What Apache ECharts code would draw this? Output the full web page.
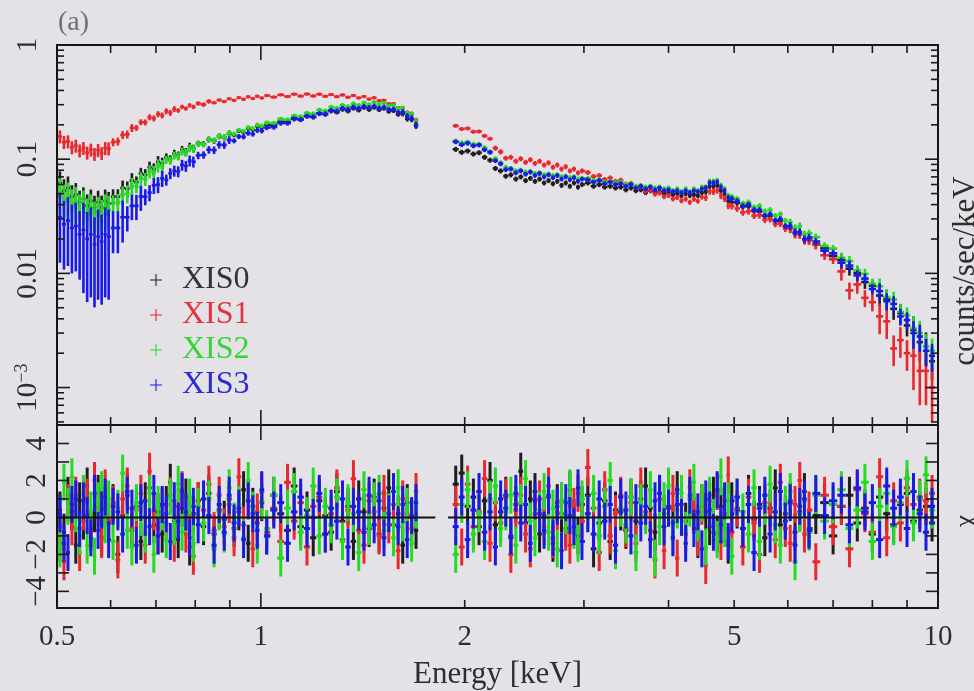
<!DOCTYPE html>
<html>
<head>
<meta charset="utf-8">
<script src="https://cdn.jsdelivr.net/npm/echarts@6/dist/echarts.min.js"></script>
<style>
  html, body { margin: 0; padding: 0; background: #e4e2e7; }
  #chart { width: 974px; height: 691px; }
</style>
</head>
<body>
<div id="chart"></div>
<script>
// XIS spectra (counts/sec/keV) and residuals (chi) for the four detectors.

// Bin centres (keV): soft band and hard band, with the 1.7-1.9 keV gap between them
const energyLow = [
  0.505, 0.512, 0.519, 0.526, 0.533, 0.540, 0.547, 0.554, 0.561, 0.568, 0.575, 0.582, 0.589, 0.596,
  0.605, 0.615, 0.625, 0.635, 0.645, 0.655, 0.665, 0.675, 0.685, 0.695,
  0.705, 0.715, 0.725, 0.735, 0.745, 0.755, 0.765, 0.775, 0.785, 0.795,
  0.808, 0.823, 0.838, 0.853, 0.868, 0.883, 0.898, 0.913, 0.928, 0.943, 0.958, 0.973, 0.988, 1.003,
  1.02, 1.045, 1.07, 1.095, 1.12, 1.145, 1.17, 1.195, 1.22, 1.245,
  1.27, 1.295, 1.32, 1.345, 1.37, 1.395, 1.42, 1.445, 1.47, 1.495,
  1.52, 1.545, 1.57, 1.595, 1.62, 1.645, 1.67, 1.695
];
const energyHigh = [
  1.94, 1.98, 2.02, 2.06, 2.10, 2.14, 2.18, 2.22, 2.26, 2.30, 2.34, 2.38, 2.42, 2.46,
  2.50, 2.54, 2.58, 2.62, 2.66, 2.70, 2.74, 2.78, 2.82, 2.86, 2.90, 2.94, 2.98,
  3.04, 3.10, 3.16, 3.22, 3.28, 3.34, 3.40, 3.46, 3.52, 3.58, 3.64, 3.70, 3.76, 3.82, 3.88, 3.94,
  4.00, 4.06, 4.12, 4.18, 4.24, 4.30, 4.36, 4.42, 4.48, 4.54, 4.60, 4.66, 4.72, 4.78, 4.84, 4.90, 4.96,
  5.05, 5.15, 5.25, 5.35, 5.45, 5.55, 5.65, 5.75, 5.85, 5.95, 6.05, 6.15, 6.25, 6.35, 6.45,
  6.6, 6.8, 7.0, 7.2, 7.4, 7.6, 7.8, 8.0, 8.2, 8.4, 8.6, 8.8, 9.0, 9.2, 9.4, 9.6, 9.8
];

// Count rates, soft band
const xis0Low = [
  0.062, 0.053, 0.056, 0.047, 0.049, 0.042, 0.045, 0.039, 0.043, 0.038, 0.042, 0.038, 0.043, 0.041,
  0.047, 0.047, 0.056, 0.055, 0.065, 0.063, 0.075, 0.073, 0.085, 0.082,
  0.095, 0.092, 0.104, 0.100, 0.112, 0.108, 0.121, 0.116, 0.129, 0.124,
  0.137, 0.136, 0.149, 0.145, 0.159, 0.155, 0.168, 0.163, 0.177, 0.172, 0.186, 0.181, 0.195, 0.190,
  0.199, 0.199, 0.213, 0.211, 0.228, 0.223, 0.239, 0.234, 0.252, 0.247,
  0.264, 0.258, 0.273, 0.264, 0.279, 0.269, 0.283, 0.272, 0.284, 0.271,
  0.279, 0.262, 0.266, 0.247, 0.251, 0.226, 0.223, 0.195
];
const xis1Low = [
  0.158, 0.141, 0.143, 0.127, 0.131, 0.119, 0.125, 0.114, 0.121, 0.111, 0.120, 0.113, 0.125, 0.124,
  0.141, 0.143, 0.163, 0.165, 0.188, 0.188, 0.211, 0.210, 0.233, 0.228,
  0.248, 0.242, 0.263, 0.255, 0.275, 0.267, 0.287, 0.278, 0.296, 0.287,
  0.308, 0.301, 0.321, 0.312, 0.330, 0.320, 0.338, 0.328, 0.346, 0.335, 0.352, 0.340, 0.356, 0.344,
  0.361, 0.350, 0.366, 0.354, 0.371, 0.357, 0.372, 0.358, 0.371, 0.356,
  0.368, 0.353, 0.365, 0.349, 0.361, 0.344, 0.354, 0.336, 0.345, 0.325,
  0.328, 0.306, 0.306, 0.282, 0.281, 0.256, 0.250, 0.220
];
const xis2Low = [
  0.051, 0.045, 0.047, 0.041, 0.043, 0.037, 0.040, 0.034, 0.037, 0.032, 0.035, 0.033, 0.037, 0.036,
  0.041, 0.042, 0.049, 0.050, 0.058, 0.058, 0.068, 0.067, 0.078, 0.077,
  0.088, 0.087, 0.099, 0.097, 0.108, 0.106, 0.117, 0.114, 0.125, 0.123,
  0.136, 0.135, 0.149, 0.146, 0.160, 0.156, 0.170, 0.166, 0.180, 0.176, 0.190, 0.186, 0.200, 0.196,
  0.209, 0.207, 0.225, 0.222, 0.240, 0.236, 0.254, 0.250, 0.270, 0.265,
  0.286, 0.280, 0.297, 0.289, 0.306, 0.297, 0.312, 0.301, 0.315, 0.302,
  0.309, 0.293, 0.296, 0.277, 0.278, 0.252, 0.246, 0.214
];
const xis3Low = [
  0.031, 0.027, 0.029, 0.025, 0.026, 0.022, 0.024, 0.020, 0.022, 0.018, 0.021, 0.019, 0.022, 0.021,
  0.025, 0.025, 0.031, 0.031, 0.039, 0.039, 0.047, 0.047, 0.051, 0.059,
  0.060, 0.068, 0.066, 0.075, 0.079, 0.078, 0.089, 0.087, 0.097, 0.095,
  0.108, 0.109, 0.121, 0.120, 0.134, 0.133, 0.147, 0.145, 0.158, 0.157, 0.169, 0.166, 0.179, 0.177,
  0.189, 0.191, 0.207, 0.207, 0.225, 0.222, 0.238, 0.235, 0.251, 0.250,
  0.268, 0.264, 0.279, 0.273, 0.286, 0.279, 0.290, 0.283, 0.291, 0.280,
  0.285, 0.272, 0.274, 0.258, 0.259, 0.238, 0.229, 0.201
];

// Count rates, hard band
const xis0High = [
  0.122, 0.115, 0.118, 0.111, 0.114, 0.104, 0.098, 0.083, 0.079, 0.071, 0.073, 0.067, 0.070, 0.065,
  0.068, 0.064, 0.067, 0.062, 0.065, 0.061, 0.064, 0.059, 0.062, 0.058, 0.062, 0.057, 0.060,
  0.062, 0.058, 0.060, 0.057, 0.058, 0.056, 0.057, 0.054, 0.056, 0.053, 0.054, 0.051, 0.053, 0.051, 0.052, 0.050,
  0.051, 0.049, 0.050, 0.048, 0.050, 0.048, 0.049, 0.048, 0.051, 0.052, 0.058, 0.058, 0.059, 0.053, 0.050, 0.043, 0.042,
  0.0415, 0.0386, 0.0387, 0.0352, 0.0347, 0.0318, 0.0316, 0.0290, 0.0287, 0.0256, 0.0248, 0.0226, 0.0222, 0.0199, 0.0198,
  0.0180, 0.0166, 0.0142, 0.0131, 0.0110, 0.0101, 0.0084, 0.0078, 0.0064, 0.0060, 0.0049, 0.0045, 0.0035, 0.0032, 0.0025, 0.0023, 0.0017
];
const xis1High = [
  0.196, 0.184, 0.186, 0.174, 0.175, 0.160, 0.151, 0.125, 0.116, 0.102, 0.104, 0.096, 0.101, 0.094,
  0.099, 0.092, 0.096, 0.089, 0.093, 0.085, 0.089, 0.082, 0.086, 0.079, 0.082, 0.076, 0.079,
  0.0765, 0.0705, 0.0720, 0.0665, 0.0685, 0.0640, 0.0655, 0.0605, 0.0615, 0.0565, 0.0575, 0.0525, 0.0535, 0.0495, 0.0505, 0.0470,
  0.0482, 0.0450, 0.0462, 0.0433, 0.0448, 0.0420, 0.0446, 0.0430, 0.0466, 0.0460, 0.0523, 0.0520, 0.0533, 0.0478, 0.0451, 0.0390, 0.0388,
  0.0370, 0.0342, 0.0349, 0.0320, 0.0323, 0.0295, 0.0298, 0.0271, 0.0272, 0.0246, 0.0247, 0.0222, 0.0221, 0.0196, 0.0195,
  0.0178, 0.0144, 0.0133, 0.0104, 0.0071, 0.0080, 0.0061, 0.0056, 0.0042, 0.0038, 0.0022, 0.0026, 0.0020, 0.0019, 0.0014, 0.0014, 0.0010
];
const xis2High = [
  0.144, 0.139, 0.141, 0.135, 0.135, 0.126, 0.116, 0.101, 0.093, 0.085, 0.083, 0.079, 0.080, 0.077,
  0.078, 0.075, 0.076, 0.073, 0.074, 0.072, 0.073, 0.070, 0.071, 0.069, 0.070, 0.067, 0.068,
  0.068, 0.065, 0.066, 0.063, 0.064, 0.062, 0.063, 0.060, 0.061, 0.058, 0.059, 0.057, 0.058, 0.056, 0.057, 0.055,
  0.056, 0.053, 0.055, 0.052, 0.055, 0.052, 0.055, 0.053, 0.057, 0.057, 0.064, 0.064, 0.065, 0.059, 0.055, 0.048, 0.047,
  0.045, 0.041, 0.042, 0.038, 0.039, 0.035, 0.036, 0.032, 0.033, 0.029, 0.028, 0.025, 0.026, 0.022, 0.0225,
  0.0208, 0.0174, 0.0165, 0.0137, 0.0128, 0.0106, 0.0099, 0.0081, 0.0077, 0.0062, 0.0059, 0.0046, 0.0043, 0.0033, 0.0030, 0.0023, 0.0021
];
const xis3High = [
  0.142, 0.134, 0.138, 0.131, 0.133, 0.121, 0.115, 0.097, 0.091, 0.081, 0.082, 0.076, 0.079, 0.074,
  0.077, 0.072, 0.075, 0.070, 0.073, 0.069, 0.072, 0.067, 0.070, 0.066, 0.069, 0.064, 0.067,
  0.066, 0.063, 0.065, 0.061, 0.063, 0.060, 0.061, 0.058, 0.060, 0.056, 0.058, 0.055, 0.057, 0.054, 0.056, 0.053,
  0.054, 0.052, 0.053, 0.051, 0.053, 0.051, 0.053, 0.052, 0.055, 0.056, 0.062, 0.062, 0.063, 0.057, 0.053, 0.046, 0.045,
  0.043, 0.039, 0.040, 0.036, 0.036, 0.032, 0.033, 0.029, 0.030, 0.026, 0.026, 0.023, 0.023, 0.020, 0.0206,
  0.0190, 0.0158, 0.0150, 0.0124, 0.0117, 0.0096, 0.0090, 0.0073, 0.0070, 0.0057, 0.0054, 0.0042, 0.0039, 0.0030, 0.0028, 0.0021, 0.0019
];

// Fractional 1-sigma error of the count rate, per energy band: [band upper edge (keV), fraction]
const err0Bands = [[0.60, 0.26], [0.65, 0.16], [0.72, 0.12], [0.80, 0.08], [0.90, 0.06], [1.60, 0.045], [1.75, 0.055],
  [4.5, 0.05], [6.0, 0.06], [7.0, 0.085], [8.0, 0.13], [9.0, 0.2], [10, 0.32]];
const err1Bands = [[0.60, 0.13], [0.65, 0.08], [0.75, 0.06], [0.85, 0.045], [1.60, 0.032], [1.75, 0.045],
  [2.2, 0.04], [4.5, 0.05], [6.0, 0.065], [7.0, 0.09], [8.0, 0.17], [9.0, 0.3], [10, 0.5]];
const err2Bands = [[0.60, 0.33], [0.65, 0.18], [0.72, 0.13], [0.80, 0.08], [0.90, 0.06], [1.60, 0.045], [1.75, 0.055],
  [4.5, 0.05], [6.0, 0.055], [7.0, 0.075], [8.0, 0.11], [9.0, 0.17], [10, 0.28]];
const err3Bands = [[0.545, 0.6], [0.60, 0.72], [0.63, 0.4], [0.67, 0.25], [0.72, 0.16], [0.80, 0.11], [0.90, 0.075],
  [1.60, 0.05], [1.75, 0.06], [4.5, 0.047], [6.0, 0.055], [7.0, 0.075], [8.0, 0.11], [9.0, 0.17], [10, 0.27]];

// Residuals in units of sigma, soft band
const res0Low = [
  0.4, -0.8, 1.2, 0.3, -1.5, 0.9, -0.2, 1.7, -0.6, 0.2,
  1.3, -1.1, 0.5, -0.3, 0.8, -2.0, 0.1, 1.4, -0.7, 0.6,
  -1.3, 0.9, 1.6, -0.4, 0.3, -0.9, 0.7, 1.9, -0.2, -1.2,
  0.5, 1.1, -1.6, 0.2, 0.9, -0.5, 1.3, -0.9, 0.4, -0.1,
  1.0, -0.6, 0.3, 1.5, -1.4, 0.6, -0.3, 0.8, -1.0, 1.2,
  0.2, -0.7, 1.7, -0.5, 0.4, -1.1, 0.9, 0.1, -0.8, 1.4,
  -0.2, 0.6, -1.3, 1.0, 0.3, -0.6, 1.1, -0.9, 0.5, 1.6,
  -0.4, 0.2, -1.5, 0.8, 0.0, -0.7
];
const res1Low = [
  -1.4, -2.4, 0.8, -0.5, 1.2, -1.9, 0.3, 1.1, -0.8, 2.0,
  0.5, -1.2, 1.6, -0.2, 0.7, -2.3, 1.0, 1.7, -0.6, 0.4,
  1.3, -1.5, 2.5, 0.3, -1.0, 0.6, -0.3, 1.2, -1.4, 0.6,
  1.5, -0.9, 0.1, -2.1, 0.9, 0.4, 1.8, -0.7, 1.2, -0.5,
  0.7, -1.1, 2.2, -0.4, 0.9, -1.7, 0.3, 1.4, -0.8, 0.5,
  -1.3, 1.9, -0.2, 0.8, -1.6, 0.6, 1.1, -0.9, 0.2, 1.6,
  -1.2, 0.4, 2.1, -0.7, -1.5, 0.9, 0.3, -1.0, 1.3, -0.4,
  0.7, -1.8, 1.0, 0.2, -0.6, 1.4
];
const res2Low = [
  -1.7, 1.9, 0.6, 2.2, 0.2, -1.0, 1.3, -1.5, 0.4, -2.1,
  0.9, 1.5, -0.4, 1.0, -1.3, 0.5, 2.4, -0.7, -1.6, 0.8,
  0.0, -0.9, 1.3, -2.0, 0.7, 0.3, -1.2, 1.1, -0.5, 1.8,
  -0.8, 0.2, 1.1, -1.4, 0.6, -0.3, 1.0, -1.7, 0.3, -0.9,
  1.6, -0.2, 0.7, -1.1, 2.0, 0.4, -1.5, 0.9, -0.6, 1.2,
  -2.2, 0.5, 1.4, -0.8, 0.1, 1.7, -1.0, 0.6, -0.4, 1.1,
  -1.3, 0.8, 0.2, -1.9, 1.5, -0.5, 0.9, 1.3, -0.7, 0.3,
  -1.1, 1.6, -0.3, 0.6, -1.4, 0.4
];
const res3Low = [
  0.2, -1.4, -1.9, 0.7, 1.0, -0.6, 0.9, 0.1, -1.1, 1.3,
  -0.7, 0.4, 1.1, -1.2, 0.6, 0.3, -0.9, 1.2, 0.5, -1.5,
  0.8, 0.0, -0.5, 1.3, -1.0, 0.7, 0.2, -1.3, 0.9, -0.2,
  1.4, 0.3, -1.1, 0.6, -0.4, 1.0, 0.1, -1.5, 0.7, -0.8,
  1.2, -0.3, 0.5, -1.2, 0.9, 0.2, -0.7, 1.5, -1.0, 0.4,
  0.8, -1.4, 0.3, 1.1, -0.6, 0.0, 1.3, -0.9, 0.5, -0.2,
  1.0, -1.6, 0.6, 0.3, -0.8, 1.2, -0.4, 0.9, -1.1, 0.2,
  1.4, -0.5, 0.7, -1.2, 0.1, 0.8
];

// Residuals in units of sigma, hard band
const res0High = [
  1.8, 2.4, 0.6, 1.1, -0.5, 0.9, 2.0, -0.4, 0.3, 1.2,
  -1.1, 0.7, 2.5, -0.3, 1.0, 1.4, -0.9, 0.1, 1.1, -1.4,
  0.8, 0.2, -0.6, 1.5, 0.0, -1.0, 0.7, 1.2, -1.7, -0.3,
  0.9, -1.3, 0.4, 0.3, -0.7, 1.1, -0.2, 1.0, 1.7, 0.5,
  -0.8, 1.3, 0.2, 0.6, -0.3, 1.5, 0.7, -0.2, 1.0, 0.1,
  -1.2, 0.8, 0.3, -0.5, 1.2, -0.9, 0.6, 0.2, -1.5, 0.9,
  0.4, -0.6, 1.3, -0.1, 0.7, -1.1, 0.5, 1.6, -0.4, 0.2,
  0.9, -0.8, 0.3, 1.4, -0.6, 0.1, 0.8, -1.0, 0.6, 1.2,
  -0.3, 0.5, -0.9, 1.1, 0.2, -0.4, 0.7, 1.3, -0.2, 0.4,
  0.6, -0.3
];
const res1High = [
  0.7, -1.6, 1.8, -0.5, 0.3, 2.1, -1.4, 0.8, -0.3, 1.1,
  -2.0, 0.4, 1.2, -0.9, -1.7, 0.2, 1.0, -0.5, 1.7, -1.2,
  0.3, 0.9, -0.8, -1.5, 0.6, 1.3, -0.2, 2.7, 0.5, -1.9,
  1.5, -1.0, 0.2, 1.2, -0.6, 0.8, -1.4, 1.7, 0.3, -0.7,
  -2.3, 1.0, -1.8, 0.5, 1.3, -2.2, 0.7, -0.9, 1.6, 0.4,
  -1.1, 0.6, -2.6, 0.9, -0.4, 1.4, -1.3, 0.2, 2.3, -0.8,
  0.5, -1.6, 1.1, -0.3, -2.0, 0.8, 0.3, -1.2, 1.9, -0.6,
  -1.4, 0.7, 2.0, -0.9, 0.4, -2.4, 1.2, -0.5, 0.6, -1.7,
  1.5, 0.2, -0.8, 2.2, -1.1, 0.9, -0.3, 1.6, 0.7, 1.1,
  0.9, 1.3
];
const res2High = [
  -2.0, 0.7, 1.5, -0.9, 0.2, -1.3, 1.0, 1.7, -0.6, 0.3,
  1.2, -1.5, 0.8, 2.1, -0.2, -1.1, 0.4, 1.4, -0.8, 0.5,
  -1.7, 0.9, 0.1, 1.6, -0.7, -1.4, 1.0, 0.2, 1.3, -1.0,
  0.6, 2.0, -1.8, 0.5, -0.4, 1.1, -1.9, 0.8, 0.1, 1.5,
  -2.2, -0.5, 0.9, 1.7, -1.0, 0.4, 1.3, -0.7, 0.5, 1.9,
  -0.3, 0.8, -1.6, 1.2, 0.0, -1.2, 2.2, -0.6, 0.9, -2.1,
  1.1, 0.3, -0.9, 1.6, -1.3, 0.6, 1.8, -0.4, -1.5, 0.7,
  1.4, -2.4, 0.2, 0.9, -0.8, 1.2, -0.2, 0.7, 1.5, -0.6,
  0.4, 1.9, -1.3, 0.6, 1.3, -0.5, 0.8, 2.1, -0.3, 1.0,
  2.3, 0.4
];
const res3High = [
  -0.5, 1.1, -1.2, 0.4, 1.4, -0.8, 0.3, -1.6, 1.0, 0.5,
  -1.0, 1.3, -0.3, 0.7, -1.4, 0.9, 0.2, -0.7, 1.2, -1.1,
  0.6, -1.8, 0.8, 0.1, -0.5, 1.6, -1.3, 0.2, -0.9, 1.0,
  -0.2, 0.7, -1.5, 1.1, 0.4, -1.0, 0.8, -0.3, 0.6, -1.2,
  0.9, 1.3, -0.5, 0.5, -1.1, 0.7, 0.0, -1.4, 1.2, -0.6,
  0.3, -1.7, 1.0, 0.4, -0.8, 1.5, -0.4, 0.9, -1.3, 0.2,
  1.1, -0.6, 0.7, -1.9, 0.5, 1.2, -0.9, 0.3, 1.4, -0.2,
  0.8, -1.5, 0.6, 1.0, -0.7, 1.3, 0.1, 0.9, 1.2, -0.4,
  1.6, 0.3, 0.8, -1.2, 1.7, 0.5, 1.1, -0.6, 1.4, 0.2,
  -0.8, 0.6
];

// Model line in the residual panel (chi = 0), interrupted across the gap
const modelLow = [0.5, 1.81];
const modelHigh = [1.89, 10];

// Axis ranges and tick labels
const E_MIN = 0.5, E_MAX = 10;
const RATE_MIN = 4.7e-4, RATE_MAX = 1;
const CHI_MIN = -4.9, CHI_MAX = 5;
const energyTicks = [0.5, 1, 2, 5, 10];
const energyTickLabels = ['0.5', '1', '2', '5', '10'];
const rateTicks = [0.001, 0.01, 0.1, 1];
const rateTickLabels = ['{m|10}{e|−3}', '0.01', '0.1', '1'];
const chiTicks = [-4, -2, 0, 2, 4];
const chiTickLabels = ['−4', '−2', '0', '2', '4'];

const detectors = ['XIS0', 'XIS1', 'XIS2', 'XIS3'];
const colors = ['#1e1e1e', '#e8282c', '#22dc22', '#1a1ae6'];
const legendTextColors = ['#333333', '#e2343c', '#35d535', '#2b2bd6'];

const FONT = "'Liberation Serif', 'DejaVu Serif', serif";
const INK = '#2e2e2e';

const spectra = [
  [xis0Low, xis0High, err0Bands, res0Low, res0High],
  [xis1Low, xis1High, err1Bands, res1Low, res1High],
  [xis2Low, xis2High, err2Bands, res2Low, res2High],
  [xis3Low, xis3High, err3Bands, res3Low, res3High]
];

// Bin edges halfway between neighbouring bin centres
function binEdges(e) {
  return e.map((v, i) => {
    const lo = i > 0 ? (e[i - 1] + v) / 2 : v - (e[1] - v) / 2;
    const hi = i < e.length - 1 ? (v + e[i + 1]) / 2 : v + (v - e[i - 1]) / 2;
    return [lo, hi];
  });
}
function bandError(bands, x) {
  for (let i = 0; i < bands.length; i++) if (x <= bands[i][0]) return bands[i][1];
  return bands[bands.length - 1][1];
}
function rateItems(e, vals, bands) {
  const ed = binEdges(e);
  return e.map((x, i) => {
    const f = bandError(bands, x);
    return [x, vals[i], ed[i][0], ed[i][1], vals[i] * (1 - f), vals[i] * (1 + f)];
  });
}
function chiItems(e, res) {
  const ed = binEdges(e);
  return e.map((x, i) => [x, res[i], ed[i][0], ed[i][1], res[i] - 1, res[i] + 1]);
}

// One cross per bin: horizontal bar over the bin width, vertical bar over the error
function crossRenderer(width) {
  return function (params, api) {
    const x = api.value(0), y = api.value(1);
    const c = api.coord([x, y]);
    const l = api.coord([api.value(2), y]);
    const r = api.coord([api.value(3), y]);
    const lo = api.coord([x, api.value(4)]);
    const hi = api.coord([x, api.value(5)]);
    const style = { stroke: api.visual('color'), lineWidth: width };
    return {
      type: 'group',
      children: [
        { type: 'line', shape: { x1: l[0], y1: c[1], x2: r[0], y2: c[1] }, style },
        { type: 'line', shape: { x1: c[0], y1: lo[1], x2: c[0], y2: hi[1] }, style }
      ]
    };
  };
}

// Frame ticks: kind 0 = energy tick (bottom and top edge), kind 1 = vertical-axis tick (left and right edge)
function tickRenderer(yLo, yHi) {
  return function (params, api) {
    const kind = api.value(2), len = api.value(3);
    const style = { stroke: '#1a1a1a', lineWidth: 1.6 };
    if (kind === 0) {
      const v = api.value(0);
      const b = api.coord([v, yLo]);
      const t = api.coord([v, yHi]);
      return { type: 'group', children: [
        { type: 'line', shape: { x1: b[0], y1: b[1], x2: b[0], y2: b[1] - len }, style },
        { type: 'line', shape: { x1: t[0], y1: t[1], x2: t[0], y2: t[1] + len }, style }
      ]};
    }
    const v = api.value(1);
    const L = api.coord([E_MIN, v]);
    const R = api.coord([E_MAX, v]);
    return { type: 'group', children: [
      { type: 'line', shape: { x1: L[0], y1: L[1], x2: L[0] + len, y2: L[1] }, style },
      { type: 'line', shape: { x1: R[0], y1: R[1], x2: R[0] - len, y2: R[1] }, style }
    ]};
  };
}

const energyMajor = [1, 10];
const energyMinor = [0.6, 0.7, 0.8, 0.9, 2, 3, 4, 5, 6, 7, 8, 9];

function energyTickItems(yRef) {
  return energyMajor.map(v => [v, yRef, 0, 15]).concat(energyMinor.map(v => [v, yRef, 0, 8]));
}
const rateTickItems = [];
rateTicks.forEach(v => rateTickItems.push([E_MIN, v, 1, 13]));
[1e-4, 1e-3, 1e-2, 1e-1].forEach(d => {
  for (let m = 2; m <= 9; m++) {
    const v = d * m;
    if (v > RATE_MIN && v < RATE_MAX) rateTickItems.push([E_MIN, v, 1, 7]);
  }
});
const chiTickItems = [];
for (let c = -4; c <= 4; c++) chiTickItems.push([E_MIN, c, 1, 12]);

const series = [];
spectra.forEach((s, k) => {
  series.push({
    name: detectors[k], type: 'custom', xAxisIndex: 0, yAxisIndex: 0,
    itemStyle: { color: colors[k] }, clip: true, silent: true, z: 2 + k,
    renderItem: crossRenderer(2.6),
    data: rateItems(energyLow, s[0], s[2]).concat(rateItems(energyHigh, s[1], s[2]))
  });
});
spectra.forEach((s, k) => {
  series.push({
    name: detectors[k], type: 'custom', xAxisIndex: 1, yAxisIndex: 1,
    itemStyle: { color: colors[k] }, clip: true, silent: true, z: 2 + k,
    renderItem: crossRenderer(3),
    data: chiItems(energyLow, s[3]).concat(chiItems(energyHigh, s[4]))
  });
});
series.push({
  type: 'line', xAxisIndex: 1, yAxisIndex: 1, symbol: 'none', silent: true, z: 10,
  lineStyle: { color: '#111', width: 2 }, connectNulls: false,
  data: [[modelLow[0], 0], [modelLow[1], 0], [1.85, '-'], [modelHigh[0], 0], [modelHigh[1], 0]]
});
series.push({
  type: 'custom', xAxisIndex: 0, yAxisIndex: 0, silent: true, clip: false, z: 20,
  renderItem: tickRenderer(RATE_MIN, RATE_MAX),
  data: energyTickItems(RATE_MIN).concat(rateTickItems)
});
series.push({
  type: 'custom', xAxisIndex: 1, yAxisIndex: 1, silent: true, clip: false, z: 20,
  renderItem: tickRenderer(CHI_MIN, CHI_MAX),
  data: energyTickItems(0).concat(chiTickItems)
});

function labelFor(ticks, labels) {
  return function (v) {
    for (let i = 0; i < ticks.length; i++) {
      if (Math.abs(v - ticks[i]) <= Math.abs(ticks[i]) * 1e-6 + 1e-9) return labels[i];
    }
    return '';
  };
}

const hidden = { axisLine: { show: false }, axisTick: { show: false }, splitLine: { show: false } };

const option = {
  animation: false,
  backgroundColor: '#e4e2e7',
  textStyle: { fontFamily: FONT },
  grid: [
    { left: 57, top: 45, width: 881, height: 380, show: true, borderColor: '#141414', borderWidth: 2, backgroundColor: 'transparent' },
    { left: 57, top: 425, width: 881, height: 184, show: true, borderColor: '#141414', borderWidth: 2, backgroundColor: 'transparent' }
  ],
  xAxis: [
    Object.assign({ gridIndex: 0, type: 'log', logBase: 10, min: E_MIN, max: E_MAX, axisLabel: { show: false } }, hidden),
    Object.assign({
      gridIndex: 1, type: 'log', logBase: 10, min: E_MIN, max: E_MAX,
      axisLabel: {
        customValues: energyTicks, formatter: labelFor(energyTicks, energyTickLabels),
        margin: 15, fontSize: 29, fontFamily: FONT, color: INK
      },
      name: 'Energy [keV]', nameLocation: 'middle', nameGap: 51,
      nameTextStyle: { fontSize: 31, fontFamily: FONT, color: INK }
    }, hidden)
  ],
  yAxis: [
    Object.assign({
      gridIndex: 0, type: 'log', logBase: 10, min: RATE_MIN, max: RATE_MAX,
      axisLabel: {
        customValues: rateTicks, formatter: labelFor(rateTicks, rateTickLabels),
        rotate: 90, margin: 14, fontSize: 29, fontFamily: FONT, color: INK,
        rich: {
          m: { fontSize: 29, fontFamily: FONT, color: INK },
          e: { fontSize: 18, fontFamily: FONT, color: INK, padding: [0, 0, 12, 0] }
        }
      }
    }, hidden),
    Object.assign({
      gridIndex: 1, type: 'value', min: CHI_MIN, max: CHI_MAX,
      axisLabel: {
        customValues: chiTicks, formatter: labelFor(chiTicks, chiTickLabels),
        rotate: 90, margin: 5, fontSize: 29, fontFamily: FONT, color: INK
      }
    }, hidden)
  ],
  legend: {
    orient: 'vertical', left: 145, top: 259, itemWidth: 42, itemHeight: 12, itemGap: 3,
    icon: 'path://M0,4.55H10V5.45H0Z M4.55,0H5.45V10H4.55Z',
    textStyle: { fontSize: 32, lineHeight: 32, fontFamily: FONT },
    selectedMode: false,
    data: detectors.map((d, k) => ({ name: d, textStyle: { color: legendTextColors[k] } }))
  },
  graphic: [
    { type: 'text', x: 58, y: 9, silent: true,
      style: { text: '(a)', font: "28px 'Liberation Serif', serif", fill: '#707070' } },
    { type: 'text', x: 966, y: 271, rotation: Math.PI / 2, silent: true,
      style: { text: 'counts/sec/keV', font: "31px 'Liberation Serif', serif", fill: INK,
               align: 'center', verticalAlign: 'middle', textAlign: 'center', textVerticalAlign: 'middle' } },
    { type: 'text', x: 966, y: 521, rotation: Math.PI / 2, silent: true,
      style: { text: 'χ', font: "28px 'Liberation Serif', serif", fill: INK,
               align: 'center', verticalAlign: 'middle', textAlign: 'center', textVerticalAlign: 'middle' } }
  ],
  series: series
};

const chart = echarts.init(document.getElementById('chart'), null, { renderer: 'canvas' });
chart.setOption(option);
</script>
</body>
</html>
